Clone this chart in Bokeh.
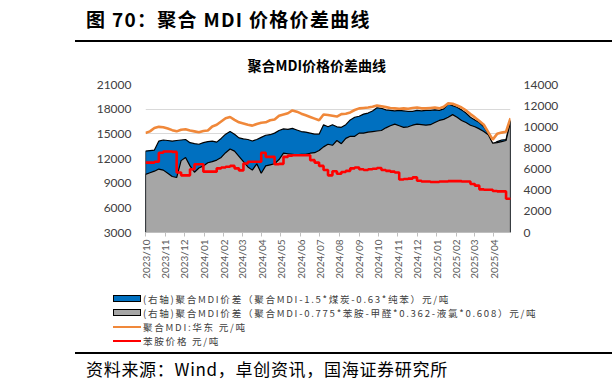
import pandas as pd
from math import pi
from bokeh.plotting import figure
from bokeh.layouts import column
from bokeh.models import Range1d, LinearAxis, FixedTicker, DatetimeTickFormatter, Div
from bokeh.embed import file_html
from bokeh.resources import INLINE

# ---------------- data (weekly readings) ----------------
dates = pd.date_range("2023-10-01", periods=83, freq="7D")

# 聚合MDI:华东 元/吨 (left axis)
mdi_east = [15100, 15300, 15700, 15850, 15800, 15650, 15450, 15300, 15500, 15550,
            15400, 15300, 15200, 15350, 15400, 15900, 16100, 16500, 16900, 17050,
            16700, 16400, 16250, 16100, 16000, 16200, 16350, 16400, 16650, 16750,
            17200, 17350, 17500, 17850, 17700, 17450, 17250, 17050, 16850, 16650,
            17350, 17300, 17200, 17100, 17400, 17450, 17600, 17900, 18100, 18150,
            18200, 18300, 18450, 18350, 18250, 18150, 18100, 18050, 18100, 18050,
            18150, 18200, 18100, 18100, 18150, 18200, 18100, 18300, 18700, 18650,
            18450, 18200, 17850, 17400, 17000, 16550, 16100, 15200, 14300, 15000,
            15150, 15250, 16900]

# 苯胺价格 元/吨 (left axis)
aniline = [11500, 11500, 11600, 12700, 12850, 12850, 12800, 10300, 9950, 9950,
           10700, 11300, 11300, 10400, 10400, 10400, 10800, 10900, 11000, 11100,
           10800, 10550, 11400, 11600, 11600, 11600, 12700, 12200, 12200, 11300,
           11350, 12200, 12350, 12400, 12400, 12400, 12400, 11800, 11500, 11100,
           10600, 9950, 10450, 10150, 10350, 10500, 10800, 10900, 10700, 10600,
           10700, 10750, 10850, 10600, 10500, 10400, 10300, 9450, 9500, 9550,
           9700, 9300, 9200, 9200, 9150, 9150, 9200, 9200, 9250, 9250,
           9250, 9200, 9200, 8900, 8700, 8250, 8200, 8200, 8050, 8000,
           8000, 7100, 7050]

# (右轴)聚合MDI价差（聚合MDI-1.5*煤炭-0.63*纯苯）
spread_coal = [7700, 7750, 7800, 8650, 8750, 8700, 8650, 8700, 8750, 8800,
               8500, 8400, 8350, 8500, 8600, 8650, 8550, 8900, 9300, 9550,
               9300, 8950, 8850, 8800, 8650, 8800, 9000, 9200, 9250, 9400,
               9650, 9800, 9750, 9850, 9700, 9550, 9500, 9400, 9300, 9300,
               10200, 10000, 10200, 10000, 9950, 10200, 10650, 10900, 11000, 11200,
               11300, 11500, 11800, 11750, 11600, 11550, 11500, 11550, 11500, 11450,
               11450, 11550, 11500, 11550, 11550, 11600, 11550, 11700, 12150, 12000,
               11850, 11600, 11300, 10900, 10650, 10400, 10000, 9350, 8350, 8600,
               8750, 8800, 10600]

# (右轴)聚合MDI价差（聚合MDI-0.775*苯胺-甲醛*0.362-液氯*0.608）
spread_aniline = [5500, 5650, 5800, 6000, 5900, 5600, 5300, 5200, 6800, 7100,
                  6300, 5700, 6100, 6300, 6600, 6700, 6850, 7100, 7550, 7900,
                  7700, 7200, 6700, 6200, 5900, 6500, 5600, 6300, 6400, 6500,
                  6900, 7500, 7450, 7400, 7350, 7400, 7400, 7500, 7550, 7750,
                  8100, 8350, 8250, 8700, 8400, 8900, 9100, 9100, 9400, 9400,
                  9500, 9550, 9600, 9650, 9900, 10100, 10250, 10100, 9950, 10000,
                  10150, 10250, 10200, 10150, 10200, 10400, 10600, 10700, 10900, 11150,
                  10900, 10600, 10400, 10150, 10000, 9800, 9550, 9250, 8450, 8500,
                  8600, 8700, 10500]

tick_months = ["2023/10", "2023/11", "2023/12", "2024/01", "2024/02", "2024/03",
               "2024/04", "2024/05", "2024/06", "2024/07", "2024/08", "2024/09",
               "2024/10", "2024/11", "2024/12", "2025/01", "2025/02", "2025/03",
               "2025/04"]
left_ticks = [3000, 6000, 9000, 12000, 15000, 18000, 21000]
right_ticks = [0, 2000, 4000, 6000, 8000, 10000, 12000, 14000]

series_labels = ["(右轴)聚合MDI价差（聚合MDI-1.5*煤炭-0.63*纯苯）元/吨",
                 "(右轴)聚合MDI价差（聚合MDI-0.775*苯胺-甲醛*0.362-液氯*0.608）元/吨",
                 "聚合MDI:华东 元/吨",
                 "苯胺价格 元/吨"]
header_text = "图 70：聚合 MDI 价格价差曲线"
chart_title = "聚合MDI价格价差曲线"
source_text = "资料来源：Wind，卓创资讯，国海证券研究所"

BLUE, GRAY, ORANGE, RED = "#0070C0", "#A6A6A6", "#F0883A", "#FF0000"
FONT = "Lato"
CJK = "Noto Sans CJK SC"
W = 612

# ---------------- header (HTML) ----------------
head_html = (
    f'<div style="position:relative;width:{W}px;height:42px;overflow:hidden;">'
    f'<div style="position:absolute;left:86px;top:7px;line-height:24px;'
    f'font-family:\'{CJK}\';font-weight:bold;font-size:19px;letter-spacing:1.3px;'
    f'color:#000;white-space:nowrap;">{header_text}</div>'
    f'<div style="position:absolute;left:75px;top:40px;width:{W - 75}px;height:1.5px;'
    f'background:#000;"></div></div>')
head = Div(text=head_html, width=W, height=42, margin=0)

# ---------------- main chart ----------------
xms = dates.values.astype("datetime64[ms]").astype("int64").tolist()
tick_ms = (pd.to_datetime(tick_months, format="%Y/%m").values
           .astype("datetime64[ms]").astype("int64")).tolist()

p = figure(width=W, height=250, output_backend="svg", toolbar_location=None,
           x_axis_type="datetime",
           x_range=Range1d(xms[0], xms[-1]), y_range=Range1d(3000, 21000),
           min_border_left=145, min_border_right=102, min_border_top=38,
           min_border_bottom=60, margin=0)
p.extra_y_ranges = {"right": Range1d(0, 14000)}
p.outline_line_color = None
p.title.text = chart_title
p.title.align = "left"
p.title.offset = 102
p.title.text_font = CJK
p.title.text_font_size = "14px"
p.title.text_font_style = "bold"
p.title.text_color = "#000000"
p.title.standoff = 20

p.patch(xms + xms[::-1], spread_coal + [0] * len(xms), y_range_name="right",
        fill_color=BLUE, line_color="#000000", line_width=1.2)
p.patch(xms + xms[::-1], spread_aniline + [0] * len(xms), y_range_name="right",
        fill_color=GRAY, line_color="#000000", line_width=1.2)
p.line(xms, mdi_east, line_color=ORANGE, line_width=2.6)
p.step(xms, aniline, mode="after", line_color=RED, line_width=2.6)

xa = p.xaxis[0]
xa.ticker = FixedTicker(ticks=tick_ms)
fmt = "%Y/%m"
xa.formatter = DatetimeTickFormatter(years=fmt, months=fmt, days=fmt, hours=fmt,
                                     minutes=fmt, seconds=fmt, milliseconds=fmt,
                                     microseconds=fmt, hourmin=fmt, minsec=fmt)
xa.major_label_orientation = pi / 2
xa.axis_line_color = "#BFBFBF"
xa.major_tick_line_color = "#BFBFBF"
xa.major_tick_in = 0
xa.major_tick_out = 4
xa.minor_tick_line_color = None
xa.major_label_text_font = FONT
xa.major_label_text_font_size = "10px"
xa.major_label_text_color = "#595959"
xa.major_label_standoff = 3

ya = p.yaxis[0]
ya.ticker = FixedTicker(ticks=left_ticks)
ra = LinearAxis(y_range_name="right", ticker=FixedTicker(ticks=right_ticks))
p.add_layout(ra, "right")
for ax, so in ((ya, 8), (ra, 7)):
    ax.axis_line_color = None
    ax.major_tick_line_color = None
    ax.minor_tick_line_color = None
    ax.major_label_text_font = FONT
    ax.major_label_text_font_size = "12px"
    ax.major_label_text_color = "#404040"
    ax.major_label_standoff = so

p.xgrid.grid_line_color = None
p.ygrid.ticker = FixedTicker(ticks=left_ticks)
p.ygrid.grid_line_color = "#D9D9D9"
p.ygrid.grid_line_width = 1

# ---------------- legend + source (HTML) ----------------
swatches = [
    f'<div style="position:absolute;left:113px;top:3px;width:28px;height:7px;'
    f'box-sizing:border-box;background:{BLUE};border:1px solid #000;"></div>',
    f'<div style="position:absolute;left:113px;top:17px;width:28px;height:7px;'
    f'box-sizing:border-box;background:{GRAY};border:1px solid #000;"></div>',
    f'<div style="position:absolute;left:113px;top:33.7px;width:28px;height:2.6px;'
    f'background:{ORANGE};"></div>',
    f'<div style="position:absolute;left:113px;top:47.7px;width:28px;height:2.6px;'
    f'background:{RED};"></div>',
]
text_centers = [6.5, 20.5, 35, 49]
texts = [
    f'<div style="position:absolute;left:143px;top:{c - 7}px;height:14px;'
    f'line-height:14px;font-family:\'{CJK}\';font-size:9.6px;letter-spacing:1.7px;'
    f'color:#404040;white-space:nowrap;">{lab}</div>'
    for c, lab in zip(text_centers, series_labels)
]
foot_html = (
    f'<div style="position:relative;width:{W}px;height:97px;overflow:hidden;">'
    + "".join(swatches) + "".join(texts)
    + f'<div style="position:absolute;left:75px;top:60px;width:{W - 75}px;height:1.5px;'
      f'background:#000;"></div>'
    + f'<div style="position:absolute;left:86px;top:66px;line-height:22px;'
      f'font-family:\'{CJK}\';font-size:17px;letter-spacing:0.7px;color:#000;'
      f'white-space:nowrap;">{source_text}</div></div>')
foot = Div(text=foot_html, width=W, height=97, margin=0)

layout = column(head, p, foot, spacing=0)
open("out.html", "w").write(file_html(layout, INLINE))
